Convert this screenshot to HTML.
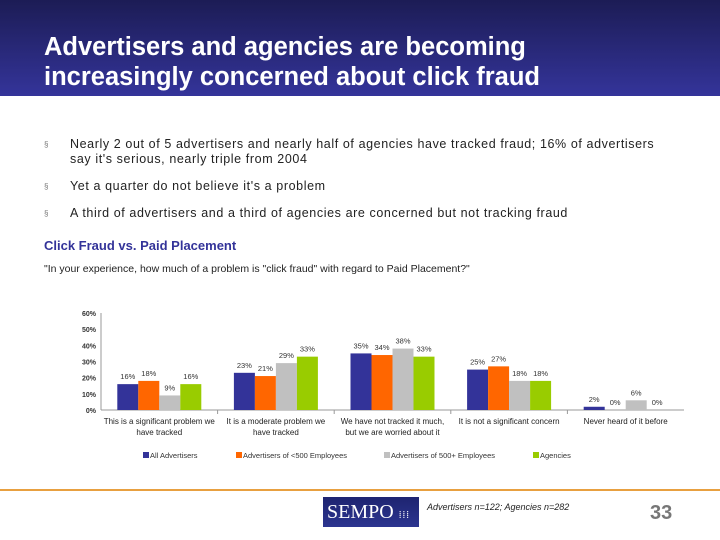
<!DOCTYPE html>
<html><head><meta charset="utf-8"><style>
body{margin:0;width:720px;height:540px;position:relative;background:#fff;font-family:"Liberation Sans",sans-serif;overflow:hidden}
.hdr{position:absolute;left:0;top:0;width:720px;height:96px;background:linear-gradient(#1c1c55,#34349a)}
.hdr h1{position:absolute;left:44px;top:32px;margin:0;color:#fff;font-size:25.5px;line-height:30px;font-weight:bold;white-space:nowrap}
.b{position:absolute;left:44px;font-size:12.5px;letter-spacing:0.6px;color:#222;line-height:15px;white-space:nowrap}
.b span{position:absolute;left:0;font-size:8px;color:#777}
.b div{margin-left:26px}
</style></head><body>
<div class="hdr"><h1>Advertisers and agencies are becoming<br>increasingly concerned about click fraud</h1></div>
<div class="b" style="top:137px"><span>§</span><div>Nearly 2 out of 5 advertisers and nearly half of agencies have tracked fraud; 16% of advertisers<br>say it's serious, nearly triple from 2004</div></div>
<div class="b" style="top:179px"><span>§</span><div>Yet a quarter do not believe it's a problem</div></div>
<div class="b" style="top:206px"><span>§</span><div>A third of advertisers and a third of agencies are concerned but not tracking fraud</div></div>
<div style="position:absolute;left:44px;top:238px;font-size:13px;font-weight:bold;color:#333399">Click Fraud vs. Paid Placement</div>
<div style="position:absolute;left:44px;top:263px;font-size:10.5px;color:#222">"In your experience, how much of a problem is "click fraud" with regard to Paid Placement?"</div>
<svg id="chart" width="720" height="540" style="position:absolute;left:0;top:0"></svg>
<div style="position:absolute;left:0;top:489px;width:720px;height:2px;background:#e8a040"></div>
<div style="position:absolute;left:323px;top:497px;width:96px;height:30px;background:linear-gradient(#1e2470,#2c3590);color:#fff;font-family:'Liberation Serif',serif;font-size:20px;line-height:30px;padding-left:4px;box-sizing:border-box">SEMPO <span style="font-size:10px;letter-spacing:1px">⁞⁞⁞</span></div>
<div style="position:absolute;left:427px;top:502px;font-size:9px;font-style:italic;color:#222">Advertisers n=122; Agencies n=282</div>
<div style="position:absolute;left:650px;top:502px;font-size:20px;font-weight:bold;color:#777">33</div>
<script>
const categories=[["This is a significant problem we","have tracked"],["It is a moderate problem we","have tracked"],["We have not tracked it much,","but we are worried about it"],["It is not a significant concern"],["Never heard of it before"]];
const seriesNames=["All Advertisers","Advertisers of <500 Employees","Advertisers of 500+ Employees","Agencies"];
const allAdv=[16,23,35,25,2];
const small=[18,21,34,27,0];
const large=[9,29,38,18,6];
const agencies=[16,33,33,18,0];
const yTicks=[0,10,20,30,40,50,60];
const colors=["#333399","#ff6600","#c0c0c0","#99cc00"];
const series=[allAdv,small,large,agencies];
const svg=document.getElementById('chart');const NS='http://www.w3.org/2000/svg';
const x0=101,x1=684,y0=410,yTop=313;
const y=v=>y0-(v/60)*(y0-yTop);
const gw=(x1-x0)/categories.length,bw=21;
function mk(t,a,txt){const e=document.createElementNS(NS,t);for(const k in a)e.setAttribute(k,a[k]);if(txt!==undefined)e.textContent=txt;svg.appendChild(e);return e;}
let ax=mk('line',{x1:x0,y1:y0,x2:x1,y2:y0,stroke:'#999','stroke-width':1});


let ay=mk('line',{x1:x0,y1:yTop,x2:x0,y2:y0,stroke:'#999','stroke-width':1});


yTicks.forEach(t=>{const e=mk('text',{x:x0-5,y:y(t)+3,'font-size':7,'text-anchor':'end',fill:'#333','font-weight':'bold'},t+'%');

});
for(let i=1;i<categories.length;i++){const e=mk('line',{x1:x0+gw*i,y1:y0,x2:x0+gw*i,y2:y0+4,stroke:'#999'});

}
categories.forEach((c,i)=>{const cx=x0+gw*(i+.5);
c.forEach((ln,j)=>{const e=mk('text',{x:cx,y:424+j*11,'font-size':8,'text-anchor':'middle',fill:'#222'},ln);

});
series.forEach((s,k)=>{const bx=cx-2*bw+k*bw;const v=s[i];
if(v>0){const r=mk('rect',{x:bx,y:y(v),width:bw,height:y0-y(v),fill:colors[k]});

}
const t=mk('text',{x:bx+bw/2,y:y(v)-5,'font-size':7.5,'text-anchor':'middle',fill:'#333'},v+'%');

});});
const lx=[143,236,384,533];
seriesNames.forEach((n,k)=>{const r=mk('rect',{x:lx[k],y:452,width:6,height:6,fill:colors[k]});


const t=mk('text',{x:lx[k]+7,y:458,'font-size':7.5,fill:'#333'},n);

});
</script>
</body></html>
